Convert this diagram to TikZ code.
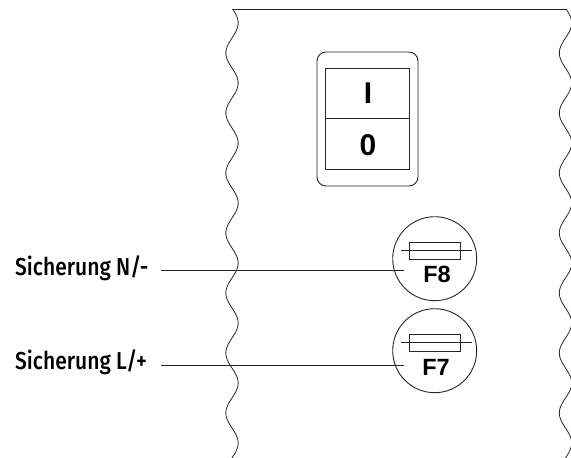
\documentclass[tikz,border=0pt]{standalone}
\usepackage{fontspec}
\setmainfont{Liberation Sans}
\newfontfamily\labelfont[FakeStretch=0.86]{Fira Sans Medium}
\tikzset{
  px/.style={x=1pt,y=-1pt},
  thinline/.style={line width=0.9pt,black!85},
  wave/.style={line width=0.8pt,black!85,smooth},
  fuselabel/.style={font=\fontsize{23.5}{24}\selectfont\bfseries,inner sep=0pt},
  switchlabel/.style={font=\fontsize{30}{30}\selectfont,inner sep=0pt},
  sidelabel/.style={font=\labelfont\fontsize{24.5}{25}\selectfont,anchor=west,inner sep=0pt},
  fusecircle/.style={circle,draw,thinline,minimum size=84pt,inner sep=0pt},
  fusebody/.style={rectangle,draw,thinline,minimum width=50.5pt,minimum height=17pt,inner sep=0pt},
}
\begin{document}
\begin{tikzpicture}[px]
\useasboundingbox (0,0) rectangle (571,458);
\begin{scope}
\clip (0,0) rectangle (571,458);
\draw[thinline] (232,9) -- (567,9);
\draw[wave] plot[domain=9:458,samples=180] ({232+6.2*sin(6*(\x-8))},\x);
\draw[wave] plot[domain=9:458,samples=180] ({565.5+6.2*sin(6*(\x-8))},\x);
\end{scope}
% switch
\draw[thinline,rounded corners=9pt] (317,52) rectangle (418,186);
\draw[thinline] (325.5,68.5) rectangle (409.5,169);
\draw[thinline] (325.5,118.5) -- (409.5,118.5);
\node[switchlabel] (on) at (368,93) {\textbf{I}};
\node[switchlabel] (off) at (368,145) {\textbf{0}};
% F8
\node[fusecircle] (c8) at (434.7,258.7) {};
\node[fusebody] (b8) at (434.7,250.5) {};
\coordinate (b8l) at (401,250.5);
\coordinate (b8r) at (472,250.5);
\draw[thinline] (b8l) -- (b8r);
\node[fuselabel] (t8) at (437,274.3) {F8};
% F7
\node[fusecircle] (c7) at (434.7,350.7) {};
\node[fusebody] (b7) at (434.7,342.5) {};
\coordinate (b7l) at (401,342.5);
\coordinate (b7r) at (472,342.5);
\draw[thinline] (b7l) -- (b7r);
\node[fuselabel] (t7) at (436,367) {F7};
% labels
\node[sidelabel] (ln) at (15,268) {Sicherung N/-};
\node[sidelabel] (ll) at (15,362) {Sicherung L/+};
\coordinate (n1) at (161,270);
\coordinate (n2) at (403.7,270);
\coordinate (l1) at (161,365);
\coordinate (l2) at (403.7,365);
\draw[thinline] (n1) -- (n2);
\draw[thinline] (l1) -- (l2);
\end{tikzpicture}
\end{document}
